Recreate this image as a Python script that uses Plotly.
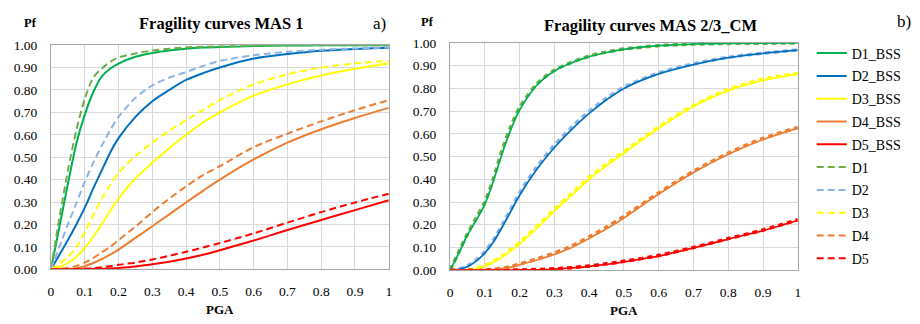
import plotly.graph_objects as go

# ---------------- data ----------------
PGA = [0, 0.025, 0.05, 0.075, 0.1, 0.125, 0.15, 0.175, 0.2, 0.25, 0.3, 0.35,
       0.4, 0.45, 0.5, 0.6, 0.7, 0.8, 0.9, 1.0]

# Chart a) Fragility curves MAS 1
A_D1_BSS = [0, 0.19, 0.38, 0.56, 0.69, 0.79, 0.86, 0.895, 0.918, 0.948, 0.965, 0.976, 0.984, 0.989, 0.992, 0.996, 0.998, 0.999, 1.0, 1.0]
A_D2_BSS = [0, 0.065, 0.13, 0.2, 0.275, 0.36, 0.44, 0.52, 0.585, 0.68, 0.75, 0.8, 0.845, 0.875, 0.9, 0.94, 0.96, 0.975, 0.983, 0.988]
A_D3_BSS = [0, 0.01, 0.028, 0.055, 0.095, 0.145, 0.2, 0.26, 0.315, 0.405, 0.475, 0.54, 0.6, 0.655, 0.7, 0.775, 0.825, 0.865, 0.895, 0.918]
A_D4_BSS = [0, 0, 0.001, 0.005, 0.014, 0.028, 0.045, 0.065, 0.088, 0.14, 0.192, 0.245, 0.298, 0.35, 0.4, 0.49, 0.565, 0.625, 0.675, 0.72]
A_D5_BSS = [0, 0, 0, 0, 0, 0.001, 0.002, 0.004, 0.006, 0.012, 0.022, 0.034, 0.048, 0.065, 0.085, 0.128, 0.175, 0.22, 0.264, 0.308]
A_D1 = [0, 0.23, 0.44, 0.62, 0.76, 0.855, 0.895, 0.925, 0.945, 0.963, 0.976, 0.984, 0.99, 0.993, 0.995, 0.998, 0.999, 1.0, 1.0, 1.0]
A_D2 = [0, 0.1, 0.2, 0.295, 0.39, 0.475, 0.55, 0.62, 0.68, 0.765, 0.82, 0.855, 0.88, 0.907, 0.93, 0.955, 0.97, 0.98, 0.985, 0.99]
A_D3 = [0, 0.025, 0.055, 0.1, 0.165, 0.24, 0.315, 0.375, 0.43, 0.505, 0.565, 0.618, 0.665, 0.71, 0.755, 0.825, 0.87, 0.9, 0.918, 0.93]
A_D4 = [0, 0.002, 0.006, 0.015, 0.03, 0.05, 0.075, 0.1, 0.13, 0.19, 0.255, 0.315, 0.37, 0.42, 0.46, 0.545, 0.605, 0.66, 0.71, 0.755]
A_D5 = [0, 0, 0, 0.001, 0.003, 0.005, 0.009, 0.014, 0.02, 0.03, 0.044, 0.06, 0.078, 0.097, 0.117, 0.16, 0.208, 0.255, 0.298, 0.337]

# Chart b) Fragility curves MAS 2/3_CM
B_D1_BSS = [0, 0.075, 0.155, 0.22, 0.29, 0.395, 0.515, 0.62, 0.705, 0.815, 0.877, 0.913, 0.94, 0.958, 0.972, 0.988, 0.995, 0.998, 0.999, 1.0]
B_D2_BSS = [0, 0.004, 0.016, 0.04, 0.075, 0.125, 0.19, 0.26, 0.33, 0.445, 0.54, 0.62, 0.69, 0.75, 0.8, 0.864, 0.905, 0.935, 0.954, 0.968]
B_D3_BSS = [0, 0, 0.001, 0.006, 0.018, 0.035, 0.058, 0.085, 0.115, 0.185, 0.26, 0.33, 0.4, 0.46, 0.515, 0.625, 0.72, 0.79, 0.835, 0.864]
B_D4_BSS = [0, 0, 0, 0, 0.001, 0.003, 0.007, 0.014, 0.024, 0.045, 0.07, 0.1, 0.14, 0.182, 0.23, 0.335, 0.43, 0.51, 0.575, 0.625]
B_D5_BSS = [0, 0, 0, 0, 0, 0, 0, 0, 0.001, 0.002, 0.005, 0.01, 0.017, 0.026, 0.037, 0.062, 0.098, 0.137, 0.174, 0.22]
B_D1 = [0, 0.08, 0.16, 0.23, 0.3, 0.405, 0.53, 0.633, 0.715, 0.82, 0.88, 0.915, 0.942, 0.96, 0.973, 0.988, 0.995, 0.998, 0.999, 1.0]
B_D2 = [0, 0.005, 0.019, 0.045, 0.082, 0.133, 0.2, 0.27, 0.34, 0.455, 0.55, 0.63, 0.7, 0.757, 0.805, 0.868, 0.908, 0.937, 0.955, 0.969]
B_D3 = [0, 0, 0.002, 0.008, 0.02, 0.04, 0.063, 0.092, 0.122, 0.193, 0.268, 0.338, 0.408, 0.467, 0.522, 0.63, 0.725, 0.795, 0.84, 0.866]
B_D4 = [0, 0, 0, 0, 0.001, 0.004, 0.009, 0.016, 0.027, 0.05, 0.076, 0.107, 0.147, 0.19, 0.237, 0.34, 0.435, 0.515, 0.58, 0.628]
B_D5 = [0, 0, 0, 0, 0, 0, 0, 0.001, 0.001, 0.003, 0.006, 0.011, 0.019, 0.028, 0.039, 0.065, 0.1, 0.139, 0.177, 0.222]

SOLID_NAMES = ["D1_BSS", "D2_BSS", "D3_BSS", "D4_BSS", "D5_BSS"]
DASH_NAMES = ["D1", "D2", "D3", "D4", "D5"]
SOLID_COLORS = ["#00B050", "#0070C0", "#FFFF00", "#ED7D31", "#FF0000"]
DASH_COLORS = ["#70AD47", "#8FB4E3", "#FFFF00", "#ED7D31", "#FF0000"]

A_SOLID = [A_D1_BSS, A_D2_BSS, A_D3_BSS, A_D4_BSS, A_D5_BSS]
A_DASH = [A_D1, A_D2, A_D3, A_D4, A_D5]
B_SOLID = [B_D1_BSS, B_D2_BSS, B_D3_BSS, B_D4_BSS, B_D5_BSS]
B_DASH = [B_D1, B_D2, B_D3, B_D4, B_D5]

W, H = 920, 324
FONT = "Liberation Serif, Times New Roman, serif"


def px(x):
    return x / W


def py(y):
    return 1 - y / H


fig = go.Figure()

# chart a): solid curves, then dashed curves (also the legend order)
for i in range(5):
    fig.add_trace(go.Scatter(
        x=PGA, y=A_SOLID[i], name=SOLID_NAMES[i], mode="lines",
        line=dict(color=SOLID_COLORS[i], width=2, shape="spline", smoothing=0.8),
        xaxis="x", yaxis="y", showlegend=True, legendgroup="s%d" % i))
for i in range(5):
    fig.add_trace(go.Scatter(
        x=PGA, y=A_DASH[i], name=DASH_NAMES[i], mode="lines",
        line=dict(color=DASH_COLORS[i], width=2, dash="7px,4px", shape="spline", smoothing=0.8),
        xaxis="x", yaxis="y", showlegend=True, legendgroup="d%d" % i))

# chart b): wide dashed under thin solid
for i in range(5):
    fig.add_trace(go.Scatter(
        x=PGA, y=B_DASH[i], name=DASH_NAMES[i], mode="lines",
        line=dict(color=DASH_COLORS[i], width=3.5, dash="5px,4px", shape="spline", smoothing=0.8),
        xaxis="x2", yaxis="y2", showlegend=False))
for i in range(5):
    fig.add_trace(go.Scatter(
        x=PGA, y=B_SOLID[i], name=SOLID_NAMES[i], mode="lines",
        line=dict(color=SOLID_COLORS[i], width=1.75, shape="spline", smoothing=0.8),
        xaxis="x2", yaxis="y2", showlegend=False))

axis_common = dict(
    range=[0, 1], showgrid=True, gridcolor="#D9D9D9", gridwidth=1,
    showline=True, linecolor="#A6A6A6", linewidth=1, mirror=True,
    ticks="", zeroline=False, dtick=0.1, tick0=0,
    tickfont=dict(family=FONT, size=13.5, color="#000000"),
)

fig.update_layout(
    width=W, height=H,
    margin=dict(l=0, r=0, t=0, b=0),
    paper_bgcolor="white", plot_bgcolor="white",
    font=dict(family=FONT, color="#000000"),
    xaxis=dict(axis_common, domain=[px(48.3), px(388.3)], anchor="y", ticklabelstandoff=10),
    yaxis=dict(axis_common, domain=[py(275), py(40)], anchor="x", tickformat=".2f", ticklabelstandoff=10),
    xaxis2=dict(axis_common, domain=[px(450), px(800)], anchor="y2", ticklabelstandoff=10),
    yaxis2=dict(axis_common, domain=[py(276), py(37.7)], anchor="x2", tickformat=".2f", ticklabelstandoff=10),
    legend=dict(
        x=px(814), y=py(32), xanchor="left", yanchor="top",
        font=dict(family=FONT, size=14, color="#000000"),
        bgcolor="rgba(0,0,0,0)", borderwidth=0,
        traceorder="grouped", tracegroupgap=1.6,
    ),
    showlegend=True,
)

ann = [
    ("<b>Fragility curves MAS 1</b>", 220, 17.5, 16.5),
    ("<b>Fragility curves MAS 2/3_CM</b>", 652.5, 19, 16.5),
    ("a)", 379, 17, 17),
    ("b)", 906.5, 15.5, 17),
    ("<b>Pf</b>", 27.5, 17, 12.5),
    ("<b>Pf</b>", 427.5, 16, 12.5),
    ("<b>PGA</b>", 218, 317, 13),
    ("<b>PGA</b>", 625, 318, 13),
]
for text, x, y, s in ann:
    fig.add_annotation(text=text, x=px(x), y=py(y), xref="paper", yref="paper",
                       xanchor="center", yanchor="middle", showarrow=False,
                       font=dict(family=FONT, size=s, color="#000000"))

fig.write_html("out.html")
